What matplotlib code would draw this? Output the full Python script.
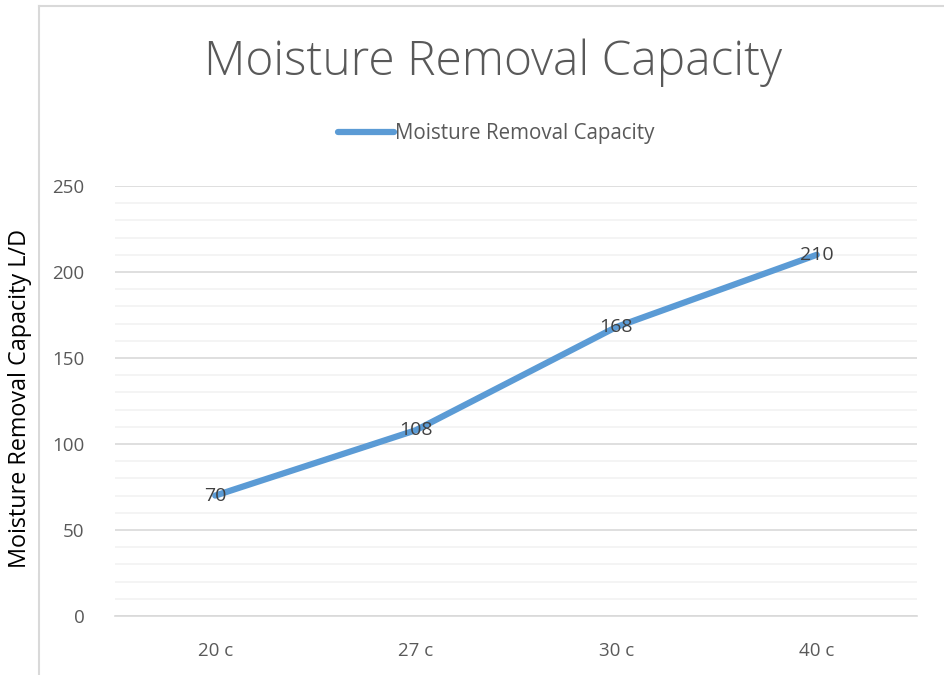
import matplotlib.pyplot as plt
from matplotlib.lines import Line2D
from matplotlib.ticker import MultipleLocator

categories = ["20 c", "27 c", "30 c", "40 c"]
capacity = [70, 108, 168, 210]
series_name = "Moisture Removal Capacity"

W, H = 944, 675
fig = plt.figure(figsize=(W / 100, H / 100), dpi=100)

# chart frame (only top and left edges are visible in the crop)
frame_col = "#D9D9D9"
fig.add_artist(Line2D([39 / W, 39 / W], [0, 1 - 6 / H], transform=fig.transFigure,
                      color=frame_col, lw=1.5))
fig.add_artist(Line2D([39 / W, 1], [1 - 6 / H, 1 - 6 / H], transform=fig.transFigure,
                      color=frame_col, lw=1.5))

ax = fig.add_axes([115 / W, 1 - 616 / H, (917 - 115) / W, (616 - 186) / H])
x = list(range(len(categories)))
(ln,) = ax.plot(x, capacity, color="#5B9BD5", lw=4.5, solid_capstyle="round",
                label=series_name, zorder=3)

for xi, v in zip(x, capacity):
    ax.text(xi, v, str(v), ha="center", va="center", fontsize=14,
            color="#404040", family="Open Sans", zorder=4)

ax.set_xlim(-0.5, len(categories) - 0.5)
ax.set_ylim(0, 250)
ax.yaxis.set_major_locator(MultipleLocator(50))
ax.yaxis.set_minor_locator(MultipleLocator(10))
ax.set_xticks(x)
ax.set_xticklabels(categories)
ax.grid(axis="y", which="major", color="#D9D9D9", lw=1.2)
ax.grid(axis="y", which="minor", color="#F2F2F2", lw=1.2)
ax.set_axisbelow(True)
for s in ["top", "right", "left"]:
    ax.spines[s].set_visible(False)
ax.spines["bottom"].set_color("#D9D9D9")
ax.spines["bottom"].set_linewidth(1.2)
ax.tick_params(axis="both", which="both", length=0, labelsize=13.5,
               colors="#595959", pad=19)
ax.tick_params(axis="y", pad=22)
for lab in ax.get_xticklabels() + ax.get_yticklabels():
    lab.set_family("Open Sans")

fig.text(20 / W, 1 - 398 / H, "Moisture Removal Capacity L/D", rotation=90,
         ha="center", va="center", fontsize=16.8, color="black", family="Open Sans",
         bbox=dict(facecolor="white", edgecolor="none", pad=4))

fig.text(493 / W, 1 - 63 / H, "Moisture Removal Capacity", ha="center", va="center",
         fontsize=34.5, color="#595959", family="Open Sans", fontweight="light")

fig.legend(handles=[ln], loc="center", bbox_to_anchor=(496 / W, 1 - 134 / H),
           frameon=False, prop={"family": "Open Sans", "size": 14.8},
           labelcolor="#595959", handlelength=2.7, handletextpad=0.05)

fig.savefig("out.png", dpi=100)
